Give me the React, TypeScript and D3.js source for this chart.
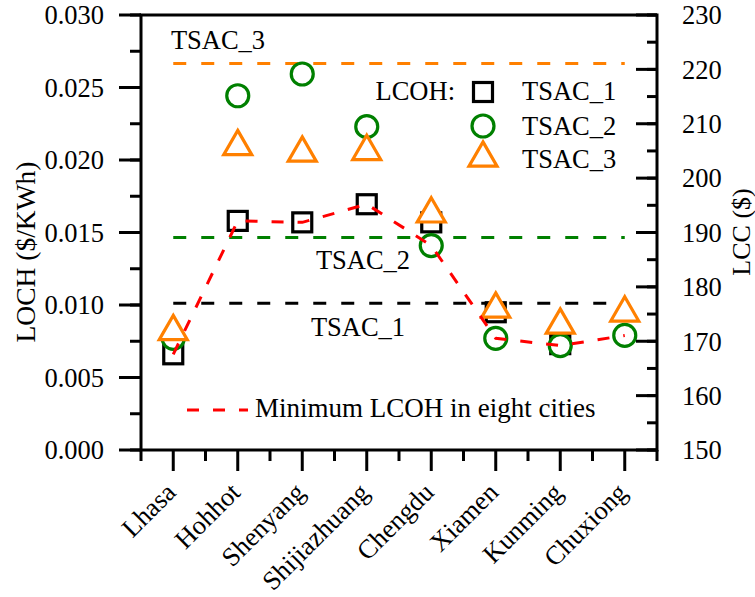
import React from "react";
import * as d3 from "d3";

// Cities along the x axis
const cities = ["Lhasa", "Hohhot", "Shenyang", "Shijiazhuang", "Chengdu", "Xiamen", "Kunming", "Chuxiong"];

// LCOH ($/kWh) per city for each collector configuration
const lcohTsac1: (number | null)[] = [0.0066, 0.0158, 0.0157, 0.01695, 0.0157, 0.0095, 0.0073, null];
const lcohTsac2: number[] = [0.0077, 0.02443, 0.02593, 0.0223, 0.0141, 0.0077, 0.0072, 0.0079];
const lcohTsac3: number[] = [0.00817, 0.02093, 0.02048, 0.02059, 0.01628, 0.00972, 0.00862, 0.00945];

// Lowest LCOH reached in each city
const minLcoh: number[] = [0.0066, 0.0158, 0.0157, 0.01695, 0.0141, 0.0077, 0.0072, 0.0079];

// Life-cycle cost ($) of each configuration, right axis
const lccNames = ["TSAC_1", "TSAC_2", "TSAC_3"];
const lccValues = [177.0, 189.1, 221.1];

// Axis ticks
const leftTicks = [0, 0.005, 0.01, 0.015, 0.02, 0.025, 0.03];
const rightTicks = [150, 160, 170, 180, 190, 200, 210, 220, 230];

const FONT = '"Liberation Serif"';
const FS = 26.5;
const GREEN = "#008000";
const ORANGE = "#FF8000";
const RED = "#FF0000";

const triPath = (side: number) => {
  const h = (side * Math.sqrt(3)) / 2;
  return `M0,${-(2 * h) / 3}L${side / 2},${h / 3}L${-side / 2},${h / 3}Z`;
};

export default function App() {
  const W = 755;
  const H = 597;
  const L = 141, R = 657, T = 15, B = 450;

  const x = d3.scaleLinear().domain([-0.5, 7.5]).range([L, R]);
  const yL = d3.scaleLinear().domain([0, 0.03]).range([B, T]);
  const yR = d3.scaleLinear().domain([150, 230]).range([B, T]);

  const leftMinor = d3.range(0, 0.0301, 0.0025);
  const rightMinor = d3.range(150, 231, 5);
  const bottomMajor = cities.map((_, i) => i);
  const bottomMinor = d3.range(-0.5, 7.6, 1);

  const minLine = d3
    .line<number>()
    .x((_, i) => x(i))
    .y((d) => yL(d));

  const lineColors = ["#000000", GREEN, ORANGE];
  // label placement for each horizontal LCC line: [x centre, offset from line]
  const lccLabelPos: [number, number][] = [
    [358, 33],
    [363, 32],
    [218, -14],
  ];

  const sq = 19;
  const cr = 11;
  const tri = triPath(28);
  const txt = { fontFamily: FONT };

  return (
    <svg width={W} height={H} style={{ position: "absolute", left: 0, top: 0, background: "#fff" }}>
      <rect x={0} y={0} width={W} height={H} fill="#fff" />

      {/* LCC reference lines */}
      {lccValues.map((v, i) => (
        <g key={lccNames[i]}>
          <line
            x1={x(0)}
            x2={x(7)}
            y1={yR(v)}
            y2={yR(v)}
            stroke={lineColors[i]}
            strokeWidth={3}
            strokeDasharray="13 15"
          />
          <text
            x={lccLabelPos[i][0]}
            y={yR(v) + lccLabelPos[i][1]}
            textAnchor="middle"
            fontSize={FS}
            style={txt}
          >
            {lccNames[i]}
          </text>
        </g>
      ))}

      {/* TSAC_1 squares */}
      {lcohTsac1.map((v, i) =>
        v == null ? null : (
          <rect
            key={`s${i}`}
            x={x(i) - sq / 2}
            y={yL(v) - sq / 2}
            width={sq}
            height={sq}
            fill="#fff"
            stroke="#000"
            strokeWidth={3.2}
          />
        )
      )}
      {/* TSAC_2 circles */}
      {lcohTsac2.map((v, i) => (
        <circle key={`c${i}`} cx={x(i)} cy={yL(v)} r={cr} fill="#fff" stroke={GREEN} strokeWidth={3.2} />
      ))}
      {/* TSAC_3 triangles */}
      {lcohTsac3.map((v, i) => (
        <path
          key={`t${i}`}
          d={tri}
          transform={`translate(${x(i)},${yL(v)})`}
          fill="#fff"
          stroke={ORANGE}
          strokeWidth={3.2}
        />
      ))}

      {/* minimum LCOH path */}
      <path d={minLine(minLcoh) || ""} fill="none" stroke={RED} strokeWidth={3} strokeDasharray="12 14" />

      {/* legend */}
      <text x={455} y={100} textAnchor="end" fontSize={FS} style={txt}>
        LCOH:
      </text>
      <rect x={483 - sq / 2} y={92 - sq / 2} width={sq} height={sq} fill="#fff" stroke="#000" strokeWidth={3.2} />
      <text x={522} y={100} fontSize={FS} style={txt}>TSAC_1</text>
      <circle cx={483} cy={126} r={cr} fill="#fff" stroke={GREEN} strokeWidth={3.2} />
      <text x={522} y={135} fontSize={FS} style={txt}>TSAC_2</text>
      <path d={tri} transform="translate(483,158)" fill="#fff" stroke={ORANGE} strokeWidth={3.2} />
      <text x={522} y={168} fontSize={FS} style={txt}>TSAC_3</text>

      <line x1={187} x2={248} y1={410} y2={410} stroke={RED} strokeWidth={3} strokeDasharray="12 14" />
      <text x={255} y={417} fontSize={27} style={txt}>
        Minimum LCOH in eight cities
      </text>

      {/* frame */}
      <rect x={L} y={T} width={R - L} height={B - T} fill="none" stroke="#000" strokeWidth={3} />

      {/* left axis */}
      {leftMinor.map((v, i) => (
        <line key={`lm${i}`} x1={L - 11} x2={L} y1={yL(v)} y2={yL(v)} stroke="#000" strokeWidth={3} />
      ))}
      {leftTicks.map((v) => (
        <g key={`lt${v}`}>
          <line x1={L - 22} x2={L} y1={yL(v)} y2={yL(v)} stroke="#000" strokeWidth={3} />
          <text x={104} y={yL(v)} dy="0.35em" textAnchor="end" fontSize={FS} style={txt}>
            {d3.format(".3f")(v)}
          </text>
        </g>
      ))}
      <text transform={`translate(35,252) rotate(-90)`} textAnchor="middle" fontSize={27.5} style={txt}>
        LOCH ($/KWh)
      </text>

      {/* right axis */}
      {rightMinor.map((v, i) => (
        <line key={`rm${i}`} x1={R - 10} x2={R} y1={yR(v)} y2={yR(v)} stroke="#000" strokeWidth={3} />
      ))}
      {rightTicks.map((v) => (
        <g key={`rt${v}`}>
          <line x1={R - 21} x2={R} y1={yR(v)} y2={yR(v)} stroke="#000" strokeWidth={3} />
          <text x={682} y={yR(v)} dy="0.35em" fontSize={FS} style={txt}>
            {v}
          </text>
        </g>
      ))}
      <text transform={`translate(750,232) rotate(-90)`} textAnchor="middle" fontSize={26} style={txt}>
        LCC ($)
      </text>

      {/* bottom axis */}
      {bottomMinor.map((v, i) => (
        <line key={`bm${i}`} x1={x(v)} x2={x(v)} y1={B} y2={B + 11} stroke="#000" strokeWidth={3} />
      ))}
      {bottomMajor.map((v) => (
        <g key={`bt${v}`}>
          <line x1={x(v)} x2={x(v)} y1={B} y2={B + 21} stroke="#000" strokeWidth={3} />
          <text
            transform={`translate(${x(v) + 4},${B + 44}) rotate(-45)`}
            textAnchor="end"
            fontSize={FS}
            style={txt}
          >
            {cities[v]}
          </text>
        </g>
      ))}
    </svg>
  );
}
